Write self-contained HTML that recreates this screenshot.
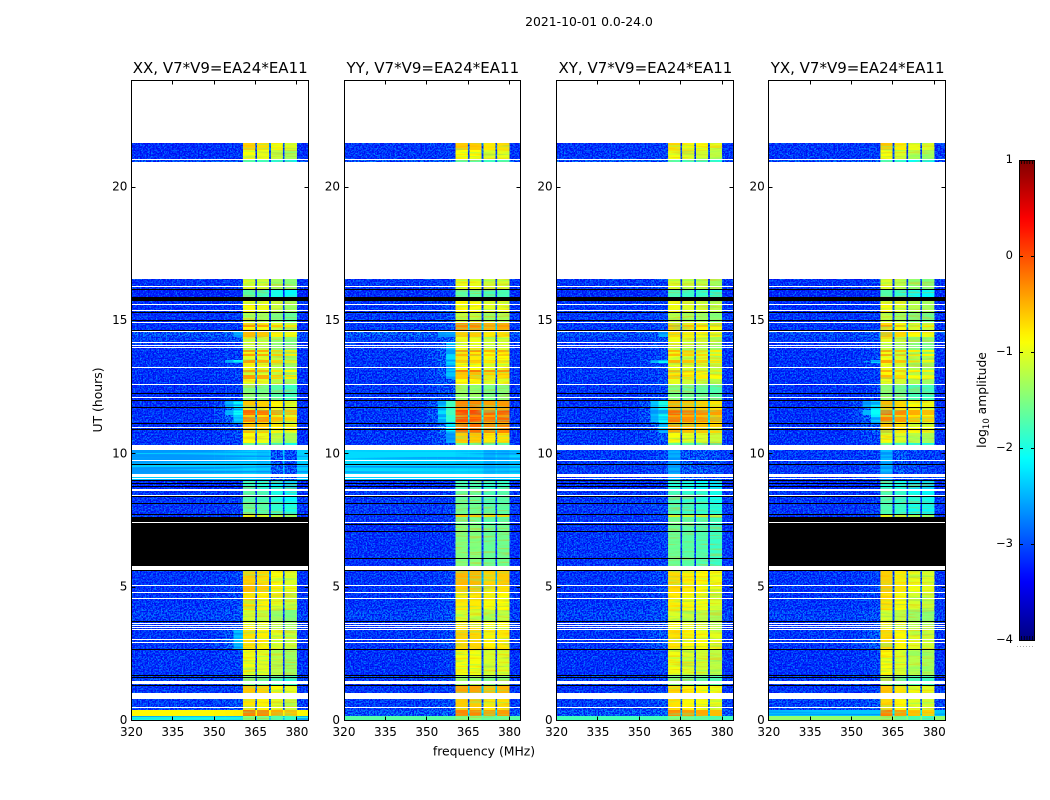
<!DOCTYPE html>
<html>
<head>
<meta charset="utf-8">
<style>
html,body{margin:0;padding:0;background:#fff;width:1050px;height:800px;overflow:hidden}
svg{display:block}
text{font-family:"DejaVu Sans","Liberation Sans",sans-serif;fill:#000}
</style>
</head>
<body>
<svg id="fig" xmlns="http://www.w3.org/2000/svg" width="1050" height="800" viewBox="0 0 1050 800">
  <defs id="defs">
    <filter id="speckleLight" x="0" y="0" width="1" height="1" color-interpolation-filters="sRGB">
      <feTurbulence type="fractalNoise" baseFrequency="0.62" numOctaves="2" seed="4"/>
      <feColorMatrix type="matrix" values="0 0 0 0 0  0 0 0 0 .52  0 0 0 0 1  8 0 0 0 -3.8"/>
    </filter>
    <filter id="speckleDark" x="0" y="0" width="1" height="1" color-interpolation-filters="sRGB">
      <feTurbulence type="fractalNoise" baseFrequency="0.62" numOctaves="2" seed="11"/>
      <feColorMatrix type="matrix" values="0 0 0 0 0  0 0 0 0 .02  0 0 0 0 .95  8 0 0 0 -3.5"/>
    </filter>
    <filter id="stripeWarm" x="0" y="0" width="1" height="1" color-interpolation-filters="sRGB">
      <feTurbulence type="fractalNoise" baseFrequency="0.03 0.5" numOctaves="2" seed="7"/>
      <feColorMatrix type="matrix" values="0 0 0 0 1  0 0 0 0 .65  0 0 0 0 0  6 0 0 0 -3.1"/>
    </filter>
    <filter id="stripeCool" x="0" y="0" width="1" height="1" color-interpolation-filters="sRGB">
      <feTurbulence type="fractalNoise" baseFrequency="0.03 0.5" numOctaves="2" seed="19"/>
      <feColorMatrix type="matrix" values="0 0 0 0 .35  0 0 0 0 1  0 0 0 0 .55  6 0 0 0 -3.1"/>
    </filter>
    <filter id="stripeBlue" x="0" y="0" width="1" height="1" color-interpolation-filters="sRGB">
      <feTurbulence type="fractalNoise" baseFrequency="0.004 0.45" numOctaves="2" seed="23"/>
      <feColorMatrix type="matrix" values="0 0 0 0 0  0 0 0 0 .5  0 0 0 0 1  6 0 0 0 -2.7"/>
    </filter>
    <linearGradient id="jetGradient" x1="0" y1="1" x2="0" y2="0"></linearGradient>
  </defs>
  <text x="589" y="26" text-anchor="middle" font-size="12.4">2021-10-01 0.0-24.0</text>
  <text x="0" y="0" transform="translate(102 400) rotate(-90)" text-anchor="middle" font-size="12.4">UT (hours)</text>
  <text x="484" y="755.5" text-anchor="middle" font-size="12.4">frequency (MHz)</text>
  <g id="panels"></g>
  <g id="colorbar"></g>
  <text x="0" y="0" transform="translate(986 400) rotate(-90)" text-anchor="middle" font-size="12.3">log<tspan font-size="8.5" dy="3">10</tspan><tspan dy="-3"> amplitude</tspan></text>
</svg>
<script>
const panelTitles = ['XX, V7*V9=EA24*EA11','YY, V7*V9=EA24*EA11','XY, V7*V9=EA24*EA11','YX, V7*V9=EA24*EA11'];
const xTicks = [320,335,350,365,380];
const yTicks = [0,5,10,15,20];
const colorTicks = [1,0,-1,-2,-3,-4];

const rowTopHours = [21.64,21.375,21.04,16.54,16.125,15.71,15.26,14.89,14.81,14.74,14.55,14.36,14.14,13.875,13.8,13.725,13.65,13.5,13.39,13.125,13.05,12.94,12.79,12.56,11.96,11.7,11.625,11.44,11.36,11.175,11.1,10.76,10.39,10.125,9.56,9,8.59,8.1,7.69,7.61,7.35,5.59,5.025,4.8,4.125,3.675,3.375,2.625,1.65,1.275,.79,.375,.15];

const channelEdges = [320,350,354,357,360.4,364.9,365.5,369.9,370.5,374.9,375.5,380,384];
const channelRoles = ['bg','r1','r2','ramp','s1','gap','s2','gap','s3','gap','s4','bg'];
const rampWeights = {bg:0,r1:.25,r2:.6,ramp:1};

const offsetsXX = {s1:-.05,s2:-.12,s3:-.32,s4:-.45,gap:-2};
const offsetsYY = {s1:-.08,s2:-.08,s3:-.22,s4:-.18,gap:-2};
const offsetsXY = {s1:-.1,s2:-.2,s3:-.25,s4:-.35,gap:-2};
const offsetsYX = {s1:-.05,s2:-.2,s3:-.38,s4:-.45,gap:-2};

const bgXX = [-3.1,-3.1,-2.8,-3.05,-3.2,-3.05,-3.05,-3.05,-3.05,-3.05,-2.7,-2.9,-3.05,-3.05,-3.05,-3.05,-3.05,-3.05,-3.05,-3.05,-3.05,-3.05,-3.05,-3.05,-3.05,-3.05,-3.05,-3.05,-3.05,-3.05,-3.05,-3.05,-3.05,-2.35,-2.35,-3.1,-3,-3,-3,-3,-3,-3,-3,-3,-2.85,-3,-3,-3,-2.9,-3,-2.9,-.85,-2];
const rampXX = [-3,-3,-2.7,-3,-3.1,-3,-2.9,-2.9,-2.9,-2.9,-2.5,-2.7,-2.9,-2.9,-2.9,-2.9,-2.9,-2.1,-2.9,-2.9,-2.9,-2.9,-2.9,-2.9,-2.1,-2.2,-2.1,-2.2,-2.3,-2.5,-2.7,-2.8,-2.9,-2.35,-2.35,-3,-2.9,-2.9,-2.9,-2.9,-2.9,-2.8,-2.8,-2.8,-2.7,-2.8,-2.4,-2.9,-2.8,-2.9,-2.7,-.8,-2];
const passXX = [-.6,-.85,-1.7,-1,-1.7,-.85,-1.2,-.7,-.3,-.8,-.5,-1,-1.1,-.35,-.9,-.35,-.9,-.35,-.9,-.4,-.9,-.35,-.9,-1.4,-.55,-.7,-.1,-.6,-.25,-.7,-.5,-.85,-1.6,-2.3,-2.25,-1.9,-1.7,-1.6,-.9,-1.5,-1.5,-.6,-.5,-.7,-1.05,-.85,-.7,-.9,-1.5,-.55,-.7,-.15,-1.4];

const bgYY = [-3,-3,-2.7,-3,-3.1,-3,-2.95,-2.95,-2.95,-2.95,-2.6,-2.85,-3,-3,-3,-3,-3,-3,-3,-3,-3,-3,-3,-3,-3,-3,-3,-3,-3,-3,-3,-3,-3,-2.3,-2.3,-3.05,-2.95,-2.95,-3,-3,-3.05,-3,-3,-3,-2.85,-3,-3,-3.05,-2.9,-3,-2.9,-2.7,-1.7];
const rampYY = [-2.9,-2.9,-2.6,-2.9,-3,-2.8,-2.7,-2.7,-2.7,-2.7,-2.4,-2.6,-2.3,-2.3,-2.3,-2.3,-2.3,-2.3,-2.4,-2.4,-2.4,-2.4,-2.6,-2.7,-1.8,-1.9,-1.8,-1.9,-1.9,-2,-2.2,-2.5,-2.7,-2.3,-2.3,-3,-2.85,-2.85,-2.9,-2.9,-3,-2.85,-2.85,-2.85,-2.7,-2.85,-2.75,-2.95,-2.8,-2.9,-2.7,-2.6,-1.7];
const passYY = [-.55,-.8,-1.6,-.9,-1.6,-.8,-1.1,-.3,-.2,-.3,-.55,-.9,-.9,-.3,-.7,-.45,-.7,-.55,-.8,-.15,-.5,-.55,-.8,-1.3,-.2,-.3,.1,-.2,.05,-.3,-.1,-.55,-1.5,-2.25,-2.2,-1.7,-1.55,-1.5,-.5,-1.5,-1.4,-.45,-.55,-.7,-1,-.7,-.6,-.85,-1.3,-.35,-.55,-.2,-1.4];

const bgXY = [-3,-3,-2.7,-3,-3.1,-3,-2.95,-2.95,-2.95,-2.95,-2.75,-2.9,-3,-3,-3,-3,-3,-3,-3,-3,-3,-3,-3,-3,-3,-3,-3,-3,-3,-3,-3,-3,-3,-2.95,-2.95,-3.05,-2.95,-2.95,-3,-3,-3,-3,-3,-3,-2.85,-3,-3,-3.05,-2.9,-3,-2.9,-2.7,-1.8];
const rampXY = [-2.9,-2.9,-2.6,-2.9,-3,-2.9,-2.8,-2.8,-2.8,-2.8,-2.5,-2.7,-2.7,-2.8,-2.8,-2.8,-2.8,-2.1,-2.8,-2.8,-2.8,-2.8,-2.8,-2.8,-2,-2.1,-2,-2.1,-2.1,-2.2,-2.4,-2.7,-2.8,-2.8,-2.8,-2.95,-2.85,-2.85,-2.9,-2.9,-2.9,-2.8,-2.8,-2.8,-2.7,-2.8,-2.7,-2.9,-2.8,-2.9,-2.75,-2.6,-1.8];
const passXY = [-.65,-.85,-1.6,-.95,-1.65,-.85,-1.1,-.6,-.35,-.6,-.6,-.85,-1,-.45,-.85,-.45,-.8,-.4,-.85,-.45,-.7,-.55,-.9,-1.4,-.4,-.4,-.05,-.3,-.1,-.4,-.35,-.8,-1.5,-2.4,-2.4,-1.9,-1.7,-1.65,-.9,-1.5,-1.5,-.6,-.6,-.7,-.95,-.8,-.65,-.85,-1.4,-.6,-.65,-.2,-1.4];

const bgYX = [-3,-3,-2.75,-3.05,-3.15,-3.05,-3,-3,-3,-3,-2.8,-2.9,-3.05,-3.05,-3.05,-3.05,-3.05,-3.05,-3.05,-3.05,-3.05,-3.05,-3.05,-3.05,-3.05,-3.05,-3.05,-3.05,-3.05,-3.05,-3.05,-3.05,-3.05,-2.95,-2.95,-3.1,-3,-3,-3,-3,-3,-3,-3,-3,-2.85,-3,-3,-3.05,-2.9,-3,-2.85,-2.4,-1.4];
const rampYX = [-2.9,-2.9,-2.65,-2.95,-3.05,-2.95,-2.9,-2.9,-2.9,-2.9,-2.6,-2.75,-2.85,-2.85,-2.85,-2.85,-2.85,-2.2,-2.9,-2.9,-2.9,-2.9,-2.9,-2.9,-2.1,-2.2,-2.1,-2.2,-2.3,-2.5,-2.6,-2.8,-2.9,-2.85,-2.85,-3,-2.9,-2.9,-2.9,-2.9,-2.9,-2.85,-2.85,-2.85,-2.7,-2.8,-2.6,-2.9,-2.8,-2.9,-2.7,-2.4,-1.4];
const passYX = [-.6,-.85,-1.7,-1,-1.7,-.85,-1.15,-.7,-.35,-.7,-.5,-.95,-1.1,-.4,-.9,-.4,-.85,-.4,-.9,-.45,-.8,-.5,-.9,-1.4,-.5,-.6,-.1,-.5,-.2,-.6,-.55,-.85,-1.6,-2.4,-2.4,-1.9,-1.7,-1.7,-.9,-1.5,-1.5,-.6,-.55,-.7,-1,-.8,-.65,-.85,-1.4,-.55,-.65,-.2,-1.4];

const whiteStartHours = [24,21.04,20.94,16.28,15.6,15.375,14.93,14.59,14.175,14.06,13.99,13.24,12.6,12.11,10.99,10.31,9.75,9.225,9.075,8.66,8.44,7.425,5.775,5.06,4.8,4.575,3.64,3.56,3.49,3.41,3.04,2.925,1.46,1.01,.49];
const whiteEndHours = [21.64,21,16.54,16.24,15.56,15.34,14.89,14.55,14.14,14.025,13.95,13.2,12.56,12.075,10.95,10.125,9.71,9.11,9.04,8.59,8.4,7.39,5.625,5.025,4.76,4.54,3.6,3.525,3.45,3.375,3,2.89,1.35,.79,.45];
const blackStartHours = [16.16,15.86,15.3,15,14.625,12.26,12,11.74,11.14,10.91,9.6,9,8.89,8.775,8.4,8.14,7.725,5.625,3.71,2.66,1.69,1.61,1.31];
const blackEndHours = [16.125,15.71,15.26,14.96,14.59,12.225,11.96,11.7,11.1,10.875,9.56,8.96,8.85,8.74,8.36,8.1,7.69,5.59,3.675,2.625,1.65,1.575,1.275];
const deadStartHours = [7.61,7.39];
const deadEndHours = [7.425,5.775];
const partialBlackStartHours = [7.35,7.09,6.075];
const partialBlackEndHours = [7.31,7.05,6.04];

const panelLefts = [131.4,344,556.6,768.8];
const panelSets = [
  {bg:bgXX,ramp:rampXX,pass:passXX,off:offsetsXX,dead:true,key:'xx'},
  {bg:bgYY,ramp:rampYY,pass:passYY,off:offsetsYY,dead:false,key:'yy'},
  {bg:bgXY,ramp:rampXY,pass:passXY,off:offsetsXY,dead:false,key:'xy'},
  {bg:bgYX,ramp:rampYX,pass:passYX,off:offsetsYX,dead:true,key:'yx'}
];

const NS = 'http://www.w3.org/2000/svg';
const panelW = 176.6, axTop = 80, axBottom = 720;
function xScale(mhz,left){return left + (mhz-320)/64*panelW;}
function yScale(h){return axBottom - h/24*(axBottom-axTop);}
function clamp(v){return Math.max(0,Math.min(1,v));}
function snap(v){return Math.floor(v)+.5;}
function jet(v){
  const t = clamp((v+4)/5);
  const r = clamp(1.5-Math.abs(4*t-3)), g = clamp(1.5-Math.abs(4*t-2)), b = clamp(1.5-Math.abs(4*t-1));
  return 'rgb('+Math.round(r*255)+','+Math.round(g*255)+','+Math.round(b*255)+')';
}
function mk(tag,attrs,parent){
  const el = document.createElementNS(NS,tag);
  for(const k in attrs){el.setAttribute(k,attrs[k]);}
  parent.appendChild(el);
  return el;
}
const panelsG = document.getElementById('panels');
const defsEl = document.getElementById('defs');

panelLefts.forEach(function(left,p){
  const set = panelSets[p];
  const g = mk('g',{},panelsG);
  
  

  const clipSpeckle = mk('clipPath',{id:'speckle-'+set.key},defsEl);
  const clipStripe = mk('clipPath',{id:'stripe-'+set.key},defsEl);
  const clipBright = mk('clipPath',{id:'bright-'+set.key},defsEl);

  const cells = mk('g',{'shape-rendering':'crispEdges'},g);
  
  
  rowTopHours.forEach(function(hTop,r){
    const hBot = r+1<rowTopHours.length ? rowTopHours[r+1] : 0;
    const y0 = Math.round(yScale(hTop)), y1 = Math.round(yScale(hBot));
    channelRoles.forEach(function(role,c){
      let v;
      if(role in rampWeights){
        const w = rampWeights[role];
        v = set.bg[r]*(1-w)+set.ramp[r]*w;
      } else if(role==='gap'){
        v = Math.max(set.pass[r]+set.off.gap,set.bg[r]);
      } else {
        v = set.pass[r]+set.off[role];
      }
      const x0 = xScale(channelEdges[c],left), x1 = xScale(channelEdges[c+1],left);
      const box = {x:x0.toFixed(2),y:y0,width:(x1-x0).toFixed(2),height:y1-y0};
      const cell = mk('rect',Object.assign({fill:jet(v)},box),cells);
      
      
      const isPass = !(role in rampWeights) && role!=='gap';
      if(isPass && set.pass[r]>=-1.9){
        mk('rect',box,clipStripe);
      } else if(v<-2.5){
        mk('rect',box,clipSpeckle);
      } else if(v<-1.9){
        mk('rect',box,clipBright);
      }
    });
  });

  const yA = yScale(rowTopHours[0]);
  function overlay(filterId,clipId,op){
    const wrap = mk('g',{'clip-path':'url(#'+clipId+')'},g);
    
    
    mk('rect',{x:left,y:yA,width:panelW,height:axBottom-yA,fill:'#000',filter:'url(#'+filterId+')',opacity:op},wrap);
  }
  overlay('speckleLight','speckle-'+set.key,.85);
  overlay('speckleDark','speckle-'+set.key,.9);
  overlay('stripeWarm','stripe-'+set.key,.35);
  overlay('stripeCool','stripe-'+set.key,.35);
  overlay('stripeBlue','bright-'+set.key,.7);

  const flags = mk('g',{'shape-rendering':'crispEdges'},g);
  
  
  function band(hs,he,color,name){
    const y0 = Math.round(yScale(hs)), y1 = Math.round(yScale(he));
    const b = mk('rect',{x:left,y:y0,width:panelW,height:Math.max(1,y1-y0),fill:color},flags);
    
    
  }
  blackStartHours.forEach(function(h,i){band(h,blackEndHours[i],'#000','no-signal-row');});
  if(set.dead){
    deadStartHours.forEach(function(h,i){band(h,deadEndHours[i],'#000','no-signal-block');});
  } else {
    partialBlackStartHours.forEach(function(h,i){band(h,partialBlackEndHours[i],'#000','no-signal-row');});
  }
  whiteStartHours.forEach(function(h,i){band(h,whiteEndHours[i],'#fff','flagged-row');});

  const fx0 = snap(left), fx1 = snap(left+panelW);
  const frame = mk('rect',{x:fx0,y:axTop+.5,width:fx1-fx0,height:axBottom-axTop,fill:'none',stroke:'#000','stroke-width':1},g);
  
  

  xTicks.forEach(function(t){
    const x = xScale(t,left);
    const xs = snap(x);
    const a = mk('line',{x1:xs,x2:xs,y1:axBottom+.5,y2:axBottom-3.5,stroke:'#000','stroke-width':1},g);
    
    
    const b = mk('line',{x1:xs,x2:xs,y1:axTop+.5,y2:axTop+4.5,stroke:'#000','stroke-width':1},g);
    
    
    const lab = mk('text',{x:x,y:736,'text-anchor':'middle','font-size':12},g);
    
    
    lab.textContent = t;
  });
  yTicks.forEach(function(t){
    const y = yScale(t);
    const ys = Math.round(y)+.5;
    const a = mk('line',{x1:fx0,x2:fx0+4,y1:ys,y2:ys,stroke:'#000','stroke-width':1},g);
    
    
    const b = mk('line',{x1:fx1,x2:fx1-4,y1:ys,y2:ys,stroke:'#000','stroke-width':1},g);
    
    
    const lab = mk('text',{x:left-4,y:y+4,'text-anchor':'end','font-size':12},g);
    
    
    lab.textContent = t;
  });
  const title = mk('text',{x:left+panelW/2+.5,y:73,'text-anchor':'middle','font-size':15},g);
  
  
  title.textContent = panelTitles[p];
});

/* colorbar */
const cb = document.getElementById('colorbar');
const grad = document.getElementById('jetGradient');
for(let i=0;i<=50;i++){
  const v = -4 + i/10;
  mk('stop',{offset:(i*2)+'%','stop-color':jet(v)},grad);
}
const cbX = 1019, cbW = 16, cbTop = 160, cbBot = 640;
function cScale(v){return cbBot - (v+4)/5*(cbBot-cbTop);}
const bar = mk('rect',{x:cbX,y:cbTop,width:cbW,height:cbBot-cbTop,fill:'url(#jetGradient)'},cb);


const barFrame = mk('rect',{x:cbX+.5,y:cbTop+.5,width:cbW-1,height:cbBot-cbTop,fill:'none',stroke:'#000','stroke-width':1},cb);


colorTicks.forEach(function(t){
  const y = Math.round(cScale(t));
  if(t!==1 && t!==-4){
    const a = mk('line',{x1:cbX,x2:cbX+4,y1:y+.5,y2:y+.5,stroke:'#000','stroke-width':1},cb);
    
    
    const b = mk('line',{x1:cbX+cbW,x2:cbX+cbW-4,y1:y+.5,y2:y+.5,stroke:'#000','stroke-width':1},cb);
    
    
  }
  const lab = mk('text',{x:1013,y:y+3,'text-anchor':'end','font-size':11.5},cb);
  
  
  lab.textContent = (t<0?'\u2212':'')+Math.abs(t);
});
[0,1,2,3,4].forEach(function(i){
  const x = cbX + 2.5 + i*2.75;
  const a = mk('line',{x1:x,x2:x,y1:cbTop,y2:cbTop+4,stroke:'#000','stroke-width':.8},cb);
  
  
  const b = mk('line',{x1:x,x2:x,y1:cbBot,y2:cbBot-4,stroke:'#000','stroke-width':.8},cb);
  
  
});
const dots = mk('line',{x1:1017,x2:1035,y1:646.5,y2:646.5,stroke:'#aaa','stroke-width':1,'stroke-dasharray':'1 2'},cb);


</script>
</body>
</html>
